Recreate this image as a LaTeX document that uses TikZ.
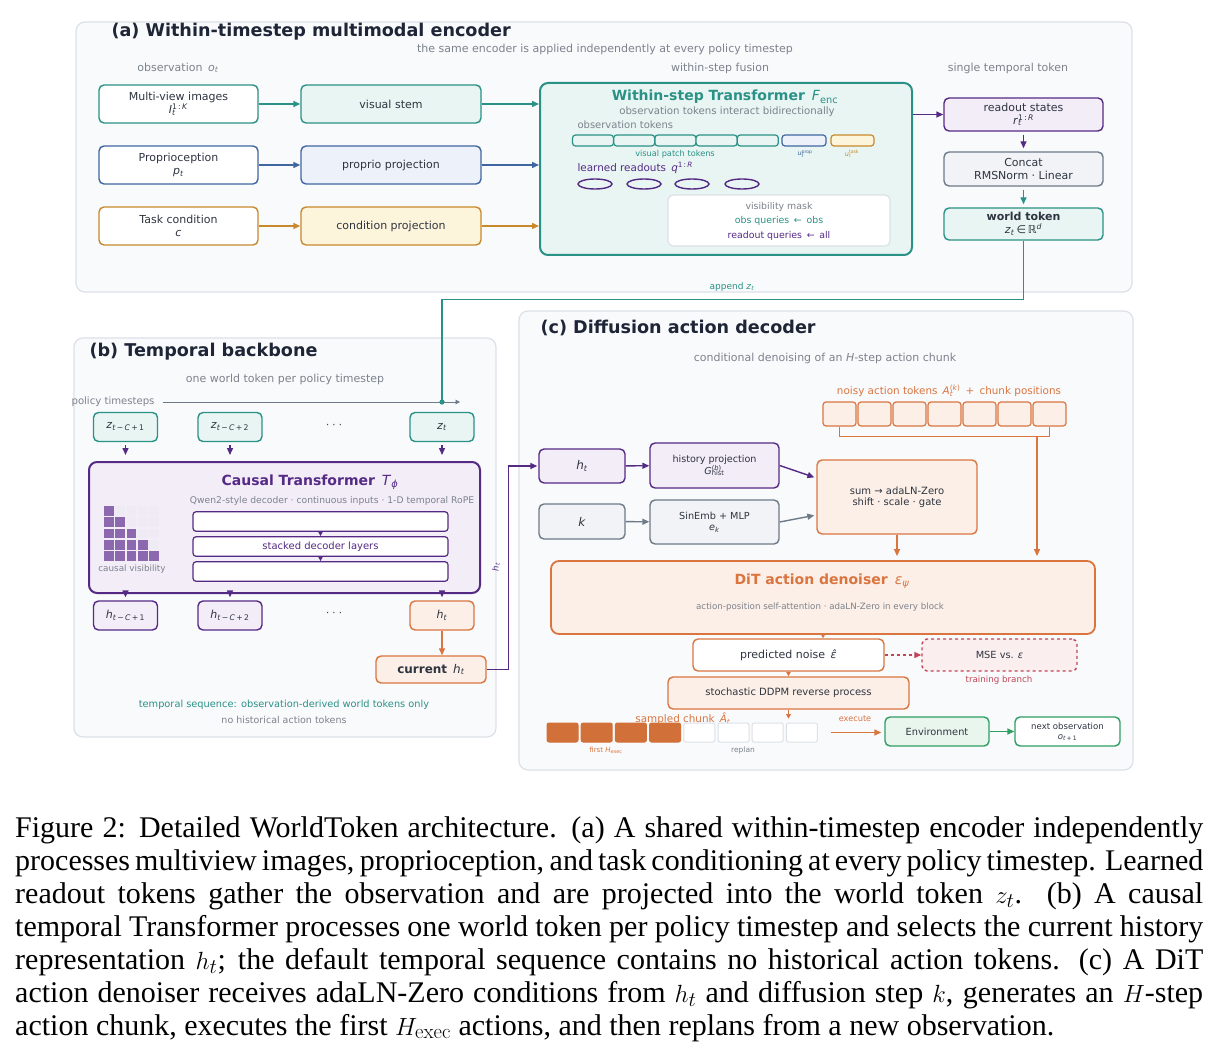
\documentclass[tikz,border=0pt]{standalone}
\usepackage[no-math]{fontspec}
\setmainfont{DejaVu Sans}
\newfontfamily\capfont{Liberation Serif}
\usetikzlibrary{arrows.meta,positioning,shapes.geometric}
\definecolor{tealc}{HTML}{2A9187}
\definecolor{tealf}{HTML}{E8F5F2}
\definecolor{bluec}{HTML}{3F66A0}
\definecolor{bluef}{HTML}{EDF1F9}
\definecolor{goldc}{HTML}{C8892C}
\definecolor{goldf}{HTML}{FDF4DC}
\definecolor{purc}{HTML}{552A85}
\definecolor{purf}{HTML}{F3EDF8}
\definecolor{greyc}{HTML}{6E7A88}
\definecolor{greyf}{HTML}{F1F3F6}
\definecolor{orac}{HTML}{DA7540}
\definecolor{oraf}{HTML}{FCEFE7}
\definecolor{redc}{HTML}{C24455}
\definecolor{redf}{HTML}{FBEEEF}
\definecolor{grnc}{HTML}{2F9E62}
\definecolor{grnf}{HTML}{E9F6EE}
\definecolor{panelbg}{HTML}{F9FAFC}
\definecolor{panelln}{HTML}{DCE1E8}
\definecolor{navy}{HTML}{1E2536}
\definecolor{txtc}{HTML}{2E3440}
\definecolor{mute}{HTML}{7C828C}
\definecolor{chunkf}{HTML}{D2703A}
\definecolor{cellf}{HTML}{8C69AF}
\definecolor{celle}{HTML}{EFEBF4}
\newcommand\vv[1]{\textit{#1}}
\newcommand\ssp[2]{\ooalign{\textsuperscript{#1}\cr\textsubscript{#2}}}
\newcommand\fsz[2]{\fontsize{#1}{#2}\selectfont}
\begin{document}
\begin{tikzpicture}[x=1pt,y=-1pt,>={Stealth[inset=0pt,length=7pt,width=6pt]},
	panel/.style={draw=panelln,fill=panelbg,rounded corners=9pt,line width=1.2pt},
	box/.style={draw=#1,rounded corners=5pt,line width=1.4pt,align=center,inner sep=1pt,text=txtc,font=\fsz{11}{13}},
	sz/.style 2 args={minimum width=#1pt,minimum height=#2pt},
	hint/.style={text=mute,font=\fsz{11}{13}},
	ttl/.style={text=navy,font=\bfseries\fsz{17.6}{20},anchor=west},
	big/.style={font=\bfseries\fsz{14}{16}},
	link/.style={#1,line width=1.4pt,->},
	small/.style={-{Stealth[inset=0pt,length=4.5pt,width=4.5pt]}}]
\useasboundingbox (0,0) rectangle (1220,1064);
\fill[white] (0,0) rectangle (1220,1064);

% (a) encoder
\draw[panel] (76,22) rectangle (1132,292);
\node[ttl] (ta) at (108,32) {(a) Within-timestep multimodal encoder};
\node[hint] (sa) at (605,49) {the same encoder is applied independently at every policy timestep};
\node[hint] (ca1) at (178,68) {observation\enspace\vv{o}\textsubscript{\vv{t}}};
\node[hint] (ca2) at (720,68) {within-step fusion};
\node[hint] (ca3) at (1008,68) {single temporal token};

\node[box=tealc,fill=white,sz={159}{38}] (mvi) at (178.5,104) {Multi-view images\\\vv{I}\ssp{1\,:\,\vv{K}}{\vv{t}}};
\node[box=bluec,fill=white,sz={159}{38}] (pro) at (178.5,165) {Proprioception\\\vv{p}\textsubscript{\vv{t}}};
\node[box=goldc,fill=white,sz={159}{38}] (tsk) at (178.5,226) {Task condition\\\vv{c}};
\node[box=tealc,fill=tealf,sz={180}{38}] (vst) at (391,104) {visual stem};
\node[box=bluec,fill=bluef,sz={180}{38}] (ppj) at (391,165) {proprio projection};
\node[box=goldc,fill=goldf,sz={180}{38}] (cpj) at (391,226) {condition projection};
\node[box=tealc,fill=tealf,line width=2pt,rounded corners=8pt,sz={372}{172}] (enc) at (726,169) {};
\draw[link=tealc] (mvi) -- (vst);
\draw[link=bluec] (pro) -- (ppj);
\draw[link=goldc] (tsk) -- (cpj);
\draw[link=tealc] (vst.east) -- (vst.east -| enc.west);
\draw[link=bluec] (ppj.east) -- (ppj.east -| enc.west);
\draw[link=goldc] (cpj.east) -- (cpj.east -| enc.west);

\node[big,text=tealc] (enct) at (725,97) {Within-step Transformer\enspace\mdseries\vv{F}\textsubscript{enc}};
\node[hint,font=\fsz{10.2}{12}] (encs) at (727,112) {observation tokens interact bidirectionally};
\node[hint,font=\fsz{10}{12},anchor=west] (obt) at (574,125) {observation tokens};
\foreach \i in {0,...,4}
	\node[draw=tealc,fill=tealf,line width=1.2pt,rounded corners=3pt,sz={41}{11},inner sep=0] (vp\i) at (593+\i*41.2,140.5) {};
\node[draw=bluec,fill=bluef,line width=1.2pt,rounded corners=3pt,sz={44}{11},inner sep=0] (up) at (804,140.5) {};
\node[draw=goldc,fill=goldf,line width=1.2pt,rounded corners=3pt,sz={43}{11},inner sep=0] (ut) at (852.5,140.5) {};
\node[text=tealc,font=\fsz{8.2}{9}] (vpt) at (675,154) {visual patch tokens};
\node[text=bluec,font=\fsz{6.5}{7}] (upl) at (805,154) {\vv{u}\ssp{prop}{\vv{t}}};
\node[text=goldc,font=\fsz{6.5}{7}] (utl) at (852,154) {\vv{u}\ssp{task}{\vv{t}}};
\node[text=purc,font=\fsz{10.4}{12},anchor=west] (lrd) at (574,168) {learned readouts\enspace\vv{q}\textsuperscript{1\,:\,\vv{R}}};
\foreach \x [count=\i] in {595,644,692,742}
	\node[draw=purc,ellipse,line width=1.4pt,sz={34}{10},inner sep=0] (q\i) at (\x,184) {};
\node[draw=panelln,fill=white,line width=1.2pt,rounded corners=5pt,sz={222}{51}] (msk) at (779,220.5) {};
\node[hint,font=\fsz{9.4}{11}] (mk1) at (779,207) {visibility mask};
\node[text=tealc,font=\fsz{9.4}{11}] (mk2) at (779,221) {obs queries\enspace←\enspace obs};
\node[text=purc,font=\fsz{9.4}{11}] (mk3) at (779,236) {readout queries\enspace←\enspace all};

\node[box=purc,fill=purf,sz={159}{33}] (rds) at (1023.5,114.5) {readout states\\\vv{r}\ssp{1\,:\,\vv{R}}{\vv{t}}};
\node[box=greyc,fill=greyf,sz={159}{34}] (cat) at (1023.5,169) {Concat\\RMSNorm · Linear};
\node[box=tealc,fill=tealf,sz={159}{32}] (wtk) at (1023.5,224) {\textbf{world token}\\\vv{z}\textsubscript{\vv{t}}\,∈\,ℝ\textsuperscript{\vv{d}}};
\draw[link=purc] (rds.west -| enc.east) -- (rds.west);
\draw[link=purc,shorten <=3pt,shorten >=3pt] (rds) -- (cat);
\draw[link=tealc,shorten <=3pt,shorten >=3pt] (cat) -- (wtk);
\node[text=tealc,font=\fsz{9}{10}] (apl) at (732,287) {append \vv{z}\textsubscript{\vv{t}}};

% (b) temporal backbone
\draw[panel] (74,338) rectangle (496,737);
\node[ttl] (tb) at (86,352) {(b) Temporal backbone};
\node[hint] (sb) at (285,379) {one world token per policy timestep};
\node[hint,font=\fsz{10.1}{12},anchor=east] (pts) at (158,402) {policy timesteps};
\coordinate (axl) at (163,402);
\coordinate (axr) at (460,402);
\draw[greyc,line width=0.9pt,small] (axl) -- (axr);

\node[box=tealc,fill=tealf,sz={64}{29}] (z1) at (125.5,427) {\vv{z}\textsubscript{\vv{t}\,−\,\vv{C}\,+\,1}};
\node[box=tealc,fill=tealf,sz={64}{29}] (z2) at (230,427) {\vv{z}\textsubscript{\vv{t}\,−\,\vv{C}\,+\,2}};
\node[text=txtc] (zd) at (334,426) {·\ ·\ ·};
\node[box=tealc,fill=tealf,sz={64}{29}] (zt) at (442,427) {\vv{z}\textsubscript{\vv{t}}};
\coordinate (zin) at (442,402);
\draw[tealc,line width=1.4pt] (wtk.south) -- ++(0,59) -| (zin);
\fill[tealc] (zin) circle (2.6pt);

\node[box=purc,fill=purf,line width=2pt,rounded corners=8pt,sz={391}{131}] (ct) at (284.5,527.5) {};
\foreach \n in {z1,z2,zt}
	\draw[link=purc,shorten <=3pt,shorten >=6pt] (\n.south) -- (\n.south |- ct.north);
\node[big,text=purc] (ctt) at (310,482) {Causal Transformer\enspace\mdseries\vv{T}\textsubscript{\vv{ϕ}}};
\node[hint,font=\fsz{9.2}{11}] (cts) at (332,501) {Qwen2-style decoder · continuous inputs · 1-D temporal RoPE};
\foreach \r in {0,...,4}
	\foreach \c in {0,...,4}{
		\ifnum\c>\r
			\fill[celle] (104+\c*11.3,506+\r*11.3) rectangle ++(9.6,9.6);
		\else
			\fill[cellf] (104+\c*11.3,506+\r*11.3) rectangle ++(9.6,9.6);
		\fi}
\node[hint,font=\fsz{8.8}{10}] (cvl) at (132,569) {causal visibility};
\node[box=purc,fill=white,line width=1.2pt,rounded corners=3pt,sz={255}{19.5}] (l1) at (320.5,521.5) {};
\node[box=purc,fill=white,line width=1.2pt,rounded corners=3pt,sz={255}{19.5},text=purc,font=\fsz{10}{11}] (l2) at (320.5,546.5) {stacked decoder layers};
\node[box=purc,fill=white,line width=1.2pt,rounded corners=3pt,sz={255}{19.5}] (l3) at (320.5,571.5) {};
\draw[purc,line width=1pt,small] (l1) -- (l2);
\draw[purc,line width=1pt,small] (l2) -- (l3);

\node[box=purc,fill=purf,sz={64}{29}] (h1) at (125.5,615.5) {\vv{h}\textsubscript{\vv{t}\,−\,\vv{C}\,+\,1}};
\node[box=purc,fill=purf,sz={64}{29}] (h2) at (230,615.5) {\vv{h}\textsubscript{\vv{t}\,−\,\vv{C}\,+\,2}};
\node[text=txtc] (hd) at (334,614) {·\ ·\ ·};
\node[box=orac,fill=oraf,sz={64}{29}] (ht) at (442,615.5) {\vv{h}\textsubscript{\vv{t}}};
\foreach \n in {h1,h2,ht}
	\draw[link=purc,shorten >=3pt] (\n.north |- ct.south) -- (\n.north);
\node[box=orac,fill=oraf,sz={110}{27},font=\fsz{12}{14}] (cur) at (431,669.5) {\textbf{current}\enspace\vv{h}\textsubscript{\vv{t}}};
\draw[link=orac] (ht.south) -- (ht.south |- cur.north);
\node[text=tealc,font=\fsz{9.8}{11}] (nb1) at (284,705) {temporal sequence: observation-derived world tokens only};
\node[hint,font=\fsz{9.5}{11}] (nb2) at (284,720) {no historical action tokens};

% (c) diffusion decoder
\draw[panel] (519,311) rectangle (1133,770);
\node[ttl] (tc) at (537,328) {(c) Diffusion action decoder};
\node[hint] (sc) at (825,358) {conditional denoising of an \vv{H}-step action chunk};
\node[text=orac,font=\fsz{10.4}{12}] (ntl) at (949,391) {noisy action tokens\enspace\vv{A}\ssp{(\vv{k})}{\vv{t}}\enspace+\enspace chunk positions};
\foreach \i in {0,...,6}
	\node[draw=orac,fill=oraf,line width=1.2pt,rounded corners=3pt,sz={33}{24},inner sep=0] (nt\i) at (839.5+\i*35,414) {};
\draw[orac,line width=1.4pt] (nt0.south) -- ++(0,10) -| (nt6.south);
\coordinate (br) at (1037,436);

\node[box=purc,fill=purf,sz={86}{34},font=\fsz{12}{13}] (hc) at (582,466) {\vv{h}\textsubscript{\vv{t}}};
\node[box=purc,fill=purf,sz={129}{45},font=\fsz{9.6}{12}] (hp) at (714.5,465.5) {history projection\\\vv{G}\ssp{(\vv{b})}{hist}};
\node[box=greyc,fill=greyf,sz={86}{35},font=\fsz{12}{13}] (kk) at (582,521.5) {\vv{k}};
\node[box=greyc,fill=greyf,sz={129}{44},font=\fsz{9.7}{11.5}] (se) at (714.5,522) {SinEmb + MLP\\\vv{e}\textsubscript{\vv{k}}};
\node[box=orac,fill=oraf,sz={160}{74},font=\fsz{10}{11.5}] (sm) at (897,497) {sum → adaLN-Zero\\shift · scale · gate};
\draw[purc,line width=1.4pt] (cur.east) -- ++(22,0) coordinate (hup);
\draw[link=purc,shorten >=1pt] (hup) |- (hc.west);
\node[rotate=90,text=purc,font=\fsz{8.5}{9}] (hlab) at (496,567) {\vv{h}\textsubscript{\vv{t}}};
\draw[link=purc] (hc) -- (hp);
\draw[link=greyc] (kk) -- (se);
\draw[link=purc,shorten >=2pt] (hp.east) -- ([yshift=19pt]sm.west);
\draw[link=greyc,shorten >=2pt] (se.east) -- ([yshift=-18pt]sm.west);

\node[box=orac,fill=oraf,line width=1.8pt,rounded corners=8pt,sz={544}{73}] (dit) at (823,597.5) {};
\node[big,text=orac] (ditt) at (822,581) {DiT action denoiser\enspace\mdseries\vv{ε}\textsubscript{\vv{ψ}}};
\node[hint,font=\fsz{8.7}{10}] (dits) at (820,607) {action-position self-attention · adaLN-Zero in every block};
\draw[link=orac,shorten >=4pt] (sm.south) -- (sm.south |- dit.north);
\draw[link=orac,shorten >=4pt] (br) -- (br |- dit.north);

\node[box=orac,fill=white,sz={191}{32}] (pn) at (788.5,655) {predicted noise\enspace\vv{ε̂}};
\node[box=redc,fill=redf,dashed,sz={155}{32},font=\fsz{9.8}{11}] (mse) at (999.5,655) {MSE vs. \vv{ε}};
\node[text=redc,font=\fsz{8.7}{10}] (trb) at (999,680) {training branch};
\draw[redc,line width=1.2pt,dashed,->] (pn) -- (mse);
\draw[orac,line width=1.4pt,small] (dit.south) -- (dit.south |- pn.north);
\node[box=orac,fill=oraf,sz={241}{32},font=\fsz{10}{11.5}] (dd) at (788.5,693) {stochastic DDPM reverse process};
\draw[orac,line width=1.4pt,small] (pn) -- (dd);
\node[text=orac,font=\fsz{10.4}{12}] (scl) at (683,719) {sampled chunk\enspace\vv{Â}\textsubscript{\vv{t}}};
\foreach \i in {0,...,7}{
	\ifnum\i<4
		\node[draw=chunkf,fill=chunkf,line width=1pt,rounded corners=2pt,sz={31}{19},inner sep=0] (ch\i) at (562.5+\i*34.2,732.5) {};
	\else
		\node[draw=panelln,fill=white,line width=1pt,rounded corners=2pt,sz={31}{19},inner sep=0] (ch\i) at (562.5+\i*34.2,732.5) {};
	\fi}
\draw[orac,line width=1.4pt,small] (dd.south) -- ++(0,9);
\node[text=orac,font=\fsz{7}{8}] (fhe) at (606,750) {first \vv{H}\textsubscript{exec}};
\node[hint,font=\fsz{7.5}{8}] (rpl) at (743,750) {replan};
\node[box=grnc,fill=grnf,sz={104}{29},font=\fsz{9.8}{11}] (env) at (937,731.5) {Environment};
\node[box=grnc,fill=white,sz={105}{29},font=\fsz{8.6}{10}] (nx) at (1067.5,731.5) {next observation\\\vv{o}\textsubscript{\vv{t}\,+\,1}};
\node[text=orac,font=\fsz{8.2}{9}] (exl) at (855,719) {execute};
\draw[link=orac,shorten <=13pt,shorten >=3pt] (ch7.east) -- (ch7.east -| env.west);
\draw[link=grnc] (env) -- (nx);

% caption
\node[anchor=north west,inner sep=0,text width=1188pt,align=justify,font=\capfont\fsz{30}{33}] (cap) at (15,816) {\hyphenpenalty=10000 Figure 2: Detailed WorldToken architecture. (a) A shared within-timestep encoder independently processes multiview images, proprioception, and task conditioning at every policy timestep. Learned readout tokens gather the observation and are projected into the world token $z_t$.\ \ (b) A causal temporal Transformer processes one world token per policy timestep and selects the current history representation $h_t$; the default temporal sequence contains no historical action tokens. (c) A DiT action denoiser receives adaLN-Zero conditions from $h_t$ and diffusion step $k$, generates an $H$-step action chunk, executes the first $H_{\mathrm{exec}}$ actions, and then replans from a new observation.\par};
\end{tikzpicture}
\end{document}
